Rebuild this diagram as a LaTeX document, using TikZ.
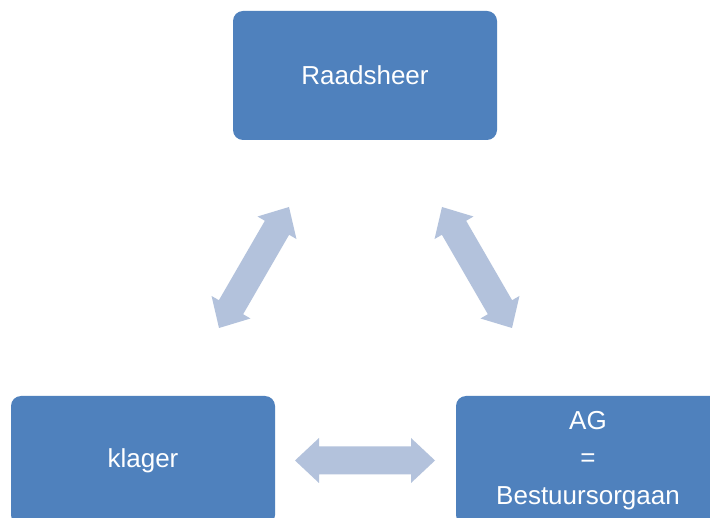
\documentclass[tikz,border=0pt]{standalone}
\usepackage{fontspec}
\setmainfont{Liberation Sans}
\usetikzlibrary{calc}
\definecolor{boxblue}{HTML}{4F81BD}
\definecolor{arrowblue}{HTML}{B3C2DC}
\tikzset{
  box/.style={fill=boxblue, rounded corners=10pt, minimum width=264pt, minimum height=129pt,
    inner sep=0pt, text=white, align=center, font=\fontsize{26}{37.5}\selectfont},
  arrowfill/.style={fill=arrowblue}
}
\newcommand\dblarrow[2]{%
\fill[arrowfill] (#1)
 -- ($(#1)!24pt!(#2)!22.5pt!90:(#2)$)
 -- ($(#1)!24pt!(#2)!14pt!90:(#2)$)
 -- ($(#2)!24pt!(#1)!14pt!-90:(#1)$)
 -- ($(#2)!24pt!(#1)!22.5pt!-90:(#1)$)
 -- (#2)
 -- ($(#2)!24pt!(#1)!22.5pt!90:(#1)$)
 -- ($(#2)!24pt!(#1)!14pt!90:(#1)$)
 -- ($(#1)!24pt!(#2)!14pt!-90:(#2)$)
 -- ($(#1)!24pt!(#2)!22.5pt!-90:(#2)$)
 -- cycle;}
\begin{document}
\begin{tikzpicture}[x=1pt,y=-1pt]
\clip (0,0) rectangle (710,518);
\fill[white] (0,0) rectangle (710,518);
\node[box] (R) at (365,75.5) {Raadsheer};
\node[box] (K) at (143,460.5) {klager};
\node[box] (A) at (588,460.5) {AG\\=\\Bestuursorgaan};
\coordinate (l1) at (219,328);
\coordinate (l2) at (289,207);
\coordinate (r1) at (442,207);
\coordinate (r2) at (512,328);
\coordinate (b1) at (295,460.5);
\coordinate (b2) at (435,460.5);
\dblarrow{l1}{l2}
\dblarrow{r1}{r2}
\dblarrow{b1}{b2}
\end{tikzpicture}
\end{document}
